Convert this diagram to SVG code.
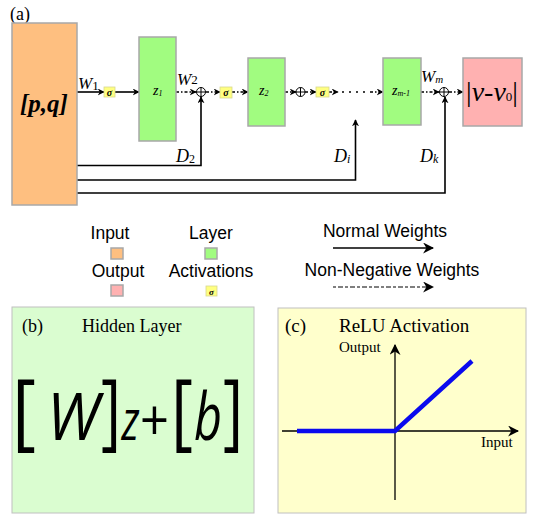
<svg xmlns="http://www.w3.org/2000/svg" width="540" height="522" viewBox="0 0 540 522">
<defs>
<marker id="ah" viewBox="0 0 10 10" refX="9" refY="5" markerWidth="7" markerHeight="7" markerUnits="userSpaceOnUse" orient="auto">
<path d="M0,0 L10,5 L0,10 L3,5 Z" fill="#000"/>
</marker>
<marker id="ahL" viewBox="0 0 10 10" refX="9" refY="5" markerWidth="11" markerHeight="11" markerUnits="userSpaceOnUse" orient="auto">
<path d="M0,0 L10,5 L0,10 L3,5 Z" fill="#000"/>
</marker>
<style>
.ser{font-family:"Liberation Serif","Times New Roman",serif;}
.sans{font-family:"Liberation Sans",Arial,sans-serif;}
.os{font-family:"Open Sans","DejaVu Sans",sans-serif;}
.it{font-style:italic;}
.box{stroke:#A8A8A8;stroke-width:1.5;}
.in{fill:#FEBF80;}
.lay{fill:#A1FC80;}
.out{fill:#FFB1B1;}
.sig{fill:#FFFF80;stroke:#D8D890;stroke-width:0.8;}
.solid{stroke:#000;stroke-width:1.6;fill:none;}
.dot{stroke:#000;stroke-width:1.4;fill:none;stroke-dasharray:3 2 1.5 2;}
.plus{fill:#fff;stroke:#000;stroke-width:1;}
</style>
</defs>

<text class="ser" x="10" y="20" font-size="18">(a)</text>

<g id="connectors">
<line class="solid" x1="77" y1="92" x2="104" y2="92" marker-end="url(#ah)"/>
<line class="solid" x1="115" y1="92" x2="139" y2="92" marker-end="url(#ah)"/>
<line class="dot" x1="176" y1="92" x2="196" y2="92" marker-end="url(#ah)"/>
<line class="dot" x1="206" y1="92" x2="220" y2="92" marker-end="url(#ah)"/>
<line class="dot" x1="232" y1="92" x2="248" y2="92" marker-end="url(#ah)"/>
<line class="dot" x1="285" y1="92" x2="296" y2="92" marker-end="url(#ah)"/>
<line class="dot" x1="305" y1="92" x2="316" y2="92" marker-end="url(#ah)"/>
<line class="dot" x1="329" y1="92" x2="338" y2="92" marker-end="url(#ah)"/>
<line x1="343" y1="92" x2="366" y2="92" stroke="#000" stroke-width="2" stroke-linecap="round" stroke-dasharray="0 7"/>
<line class="dot" x1="370" y1="92" x2="383" y2="92" marker-end="url(#ah)"/>
<line class="dot" x1="421" y1="92" x2="439" y2="92" marker-end="url(#ah)"/>
<line class="dot" x1="449" y1="92" x2="463" y2="92" marker-end="url(#ah)"/>
<polyline class="solid" points="77,165.5 201,165.5 201,97" marker-end="url(#ah)"/>
<polyline class="solid" points="77,180 355.5,180 355.5,120" marker-end="url(#ah)"/>
<polyline class="solid" points="77,193 445,193 445,97" marker-end="url(#ah)"/>
</g>

<g id="input">
<rect class="box in" x="12" y="23" width="65" height="182"/>
<text class="ser it" x="44" y="112" font-size="25" font-weight="bold" text-anchor="middle">[p,q]</text>
</g>

<g id="sigma1"><rect class="sig" x="104" y="87" width="11" height="10"/><text class="ser it" x="109.5" y="95.5" font-size="10" font-weight="bold" text-anchor="middle">σ</text></g>
<g id="z1">
<rect class="box lay" x="139" y="37" width="37" height="104"/>
<text class="ser it" x="153" y="95" font-size="14">z<tspan font-size="8" dy="1">1</tspan></text>
</g>
<g id="sum2">
<circle class="plus" cx="201" cy="92" r="4.5"/>
<path d="M196.5,92 H205.5 M201,87.5 V96.5" stroke="#000" stroke-width="1"/>
</g>
<g id="sigma2"><rect class="sig" x="220" y="87" width="12" height="11"/><text class="ser it" x="226" y="96" font-size="10" font-weight="bold" text-anchor="middle">σ</text></g>
<g id="z2">
<rect class="box lay" x="248" y="58" width="37" height="68"/>
<text class="ser it" x="259" y="95" font-size="14">z<tspan font-size="8" dy="1">2</tspan></text>
</g>
<g id="sum3">
<circle class="plus" cx="300.5" cy="92" r="4.5"/>
<path d="M296,92 H305 M300.5,87.5 V96.5" stroke="#000" stroke-width="1"/>
</g>
<g id="sigma3"><rect class="sig" x="316" y="87" width="13" height="10"/><text class="ser it" x="322.5" y="95.5" font-size="10" font-weight="bold" text-anchor="middle">σ</text></g>
<g id="zm1">
<rect class="box lay" x="383" y="58" width="38" height="67"/>
<text class="ser it" x="392" y="95" font-size="14">z<tspan font-size="8" dy="1">m-1</tspan></text>
</g>
<g id="summ">
<circle class="plus" cx="444" cy="92" r="4.5"/>
<path d="M439.5,92 H448.5 M444,87.5 V96.5" stroke="#000" stroke-width="1"/>
</g>
<g id="output">
<rect class="box out" x="463" y="58" width="59" height="68"/>
<text class="ser it" x="492" y="101" font-size="28" text-anchor="middle"><tspan font-style="normal">|</tspan>v-v<tspan font-size="13" font-style="normal">0</tspan><tspan font-style="normal">|</tspan></text>
</g>

<g id="labels">
<text class="ser it" x="78" y="89" font-size="17">W<tspan font-size="13" font-style="normal" dy="1">1</tspan></text>
<text class="ser it" x="177" y="85" font-size="17">W<tspan font-size="13" font-style="normal" dy="-1">2</tspan></text>
<text class="ser it" x="421" y="82" font-size="17">W<tspan font-size="11" dy="1">m</tspan></text>
<text class="ser it" x="176" y="162" font-size="18">D<tspan font-size="12" font-style="normal" dy="1">2</tspan></text>
<text class="ser it" x="334" y="162" font-size="18">D<tspan font-size="12" dy="1">i</tspan></text>
<text class="ser it" x="420" y="162" font-size="18">D<tspan font-size="12" dy="1">k</tspan></text>
</g>

<g id="legend">
<text class="sans" x="110" y="239" font-size="17.5" text-anchor="middle">Input</text>
<rect class="box in" x="111" y="248" width="12" height="11" stroke-width="1.2"/>
<text class="sans" x="118" y="277" font-size="17.5" text-anchor="middle">Output</text>
<rect class="box out" x="111" y="285" width="12" height="11" stroke-width="1.2"/>
<text class="sans" x="211" y="239" font-size="17.5" text-anchor="middle">Layer</text>
<rect class="box lay" x="205" y="248" width="12" height="11" stroke-width="1.2"/>
<text class="sans" x="211" y="277" font-size="17.5" text-anchor="middle">Activations</text>
<rect class="sig" x="206" y="286" width="11" height="10"/>
<text class="ser it" x="211.5" y="294.5" font-size="9" font-weight="bold" text-anchor="middle">σ</text>
<text class="sans" x="385" y="237" font-size="17.5" text-anchor="middle">Normal Weights</text>
<line class="solid" x1="333" y1="248" x2="433" y2="248" stroke-width="1.3" marker-end="url(#ahL)"/>
<text class="sans" x="392" y="276" font-size="17.5" text-anchor="middle">Non-Negative Weights</text>
<line x1="333" y1="287" x2="433" y2="287" stroke="#000" stroke-width="1.2" stroke-dasharray="3 2 5 2" marker-end="url(#ahL)"/>
</g>

<g id="panel-b">
<rect x="12" y="307" width="242" height="206" fill="#DAFDD0" stroke="#C0C0C0" stroke-width="1"/>
<text class="ser" x="22" y="332" font-size="18">(b)</text>
<text class="ser" x="82" y="332" font-size="18">Hidden Layer</text>
<text class="os" x="12" y="440" font-size="84" textLength="24" lengthAdjust="spacingAndGlyphs">[</text>
<text class="os it" x="47" y="440" font-size="66" textLength="52" lengthAdjust="spacingAndGlyphs">W</text>
<text class="os" x="101" y="440" font-size="84" textLength="20" lengthAdjust="spacingAndGlyphs">]</text>
<text class="os it" x="121.5" y="440" font-size="56" textLength="18" lengthAdjust="spacingAndGlyphs">z</text>
<text class="os" x="140" y="440" font-size="56" textLength="29" lengthAdjust="spacingAndGlyphs">+</text>
<text class="os" x="171" y="440" font-size="84" textLength="22" lengthAdjust="spacingAndGlyphs">[</text>
<text class="os it" x="194" y="440" font-size="66" textLength="28" lengthAdjust="spacingAndGlyphs">b</text>
<text class="os" x="223" y="440" font-size="84" textLength="20" lengthAdjust="spacingAndGlyphs">]</text>
</g>

<g id="panel-c">
<rect x="278" y="308" width="248" height="205" fill="#FFFFCC" stroke="#C0C0C0" stroke-width="1"/>
<text class="ser" x="285" y="332" font-size="19">(c)</text>
<text class="ser" x="339" y="332" font-size="19">ReLU Activation</text>
<line x1="395" y1="500" x2="395" y2="345" stroke="#000" stroke-width="1.3" marker-end="url(#ahL)"/>
<line x1="282" y1="431" x2="518" y2="431" stroke="#000" stroke-width="1.3" marker-end="url(#ahL)"/>
<text class="ser" x="339" y="352" font-size="15">Output</text>
<text class="ser" x="481" y="447" font-size="15">Input</text>
<polyline points="297,431 395,431 472,361" fill="none" stroke="#0A0AEE" stroke-width="4.5"/>
</g>
</svg>
